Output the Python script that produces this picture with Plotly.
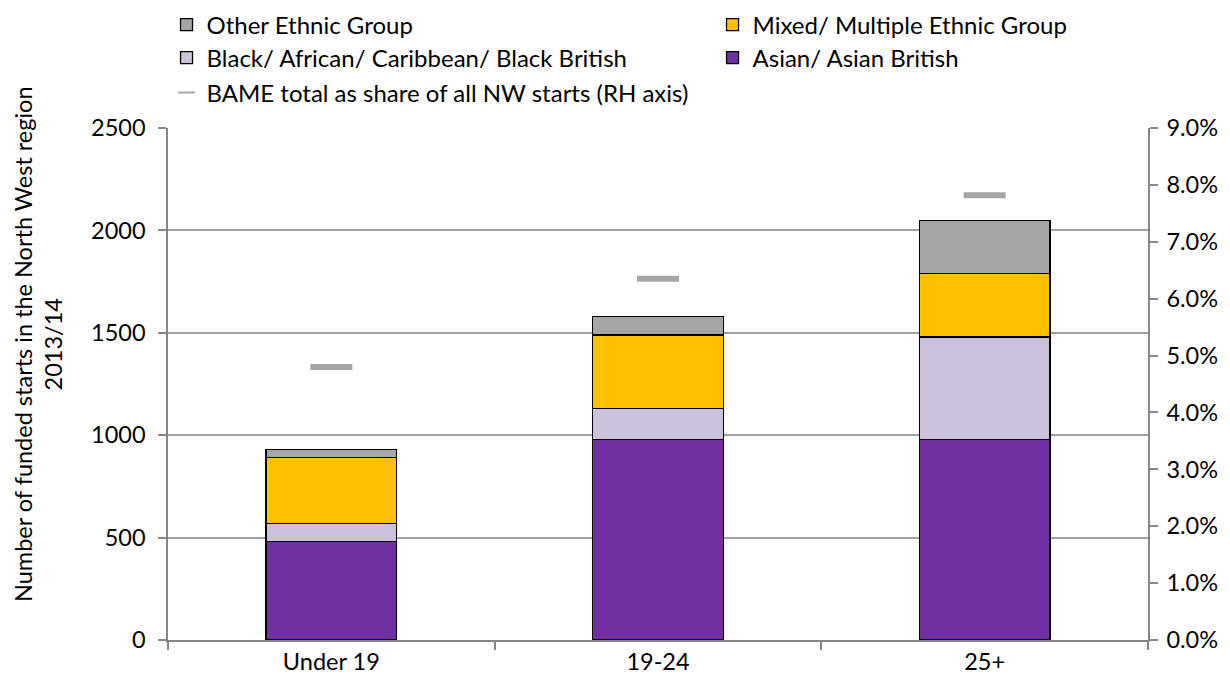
import plotly.graph_objects as go

categories = ["Under 19", "19-24", "25+"]
asian = [480, 980, 980]
black = [90, 150, 500]
mixed = [320, 360, 310]
other = [40, 90, 260]
bame_share = [0.048, 0.0635, 0.0782]

FONT = "Lato"
FS = 23.5
LFS = 24
fig = go.Figure()

bar_specs = [
    ("Asian/ Asian British", asian, "#7030A0", "legend2"),
    ("Black/ African/ Caribbean/ Black British", black, "#CCC1DA", "legend2"),
    ("Mixed/ Multiple Ethnic Group", mixed, "#FFC000", "legend"),
    ("Other Ethnic Group", other, "#A6A6A6", "legend"),
]
for name, vals, col, lg in bar_specs:
    fig.add_trace(go.Bar(
        x=categories, y=vals, name=name, legend=lg,
        marker=dict(color=col, line=dict(color="#000000", width=1.3)),
        width=0.4,
    ))

fig.add_trace(go.Scatter(
    x=categories, y=bame_share, name="BAME total as share of all NW starts (RH axis)",
    mode="markers", yaxis="y2", legend="legend3",
    marker=dict(symbol="line-ew", size=30, color="#A6A6A6",
                line=dict(color="#A6A6A6", width=6)),
))

leg_common = dict(orientation="h", x=-0.0015, xanchor="left", yanchor="middle",
                  entrywidth=501, font=dict(family=FONT, size=LFS),
                  bgcolor="rgba(0,0,0,0)")

fig.update_layout(
    width=1222, height=676,
    paper_bgcolor="white", plot_bgcolor="white",
    font=dict(family=FONT, size=FS, color="#000000"),
    barmode="stack", bargap=0.6,
    margin=dict(l=160, r=82, t=120, b=44, autoexpand=False),
    showlegend=True,
    legend=dict(y=1.2012, traceorder="reversed", **leg_common),
    legend2=dict(y=1.1367, traceorder="reversed", **leg_common),
    legend3=dict(y=1.0684, traceorder="normal", itemsizing="constant", **leg_common),
    xaxis=dict(showline=True, linecolor="#868686", linewidth=1.5, automargin=False,
               ticks="outside", tickson="boundaries", ticklen=8, tickcolor="#868686",
               tickwidth=1.5, showgrid=False, tickfont=dict(size=FS)),
    yaxis=dict(range=[0, 2500], dtick=500, showline=True, linecolor="#868686",
               linewidth=1.5, ticks="outside", ticklen=8, tickcolor="#868686",
               tickwidth=1.5, gridcolor="#A0A0A0", gridwidth=1.5, automargin=False,
               tickfont=dict(size=FS), zeroline=False, ticklabelstandoff=8),
    yaxis2=dict(range=[0, 0.09], dtick=0.01, tickformat=".1%", overlaying="y",
                side="right", showline=True, linecolor="#868686", linewidth=1.5,
                ticks="outside", ticklen=8, tickcolor="#868686", tickwidth=1.5,
                showgrid=False, zeroline=False, tickfont=dict(size=FS), automargin=False,
                ticklabelstandoff=4),
    annotations=[dict(
        text="Number of funded starts in the North West region<br>2013/14",
        xref="paper", yref="paper", x=-0.1327, y=0.578, xanchor="center",
        yanchor="middle", textangle=-90, showarrow=False, align="center",
        font=dict(family=FONT, size=FS, color="#000000"))],
)

fig.write_html("out.html")
